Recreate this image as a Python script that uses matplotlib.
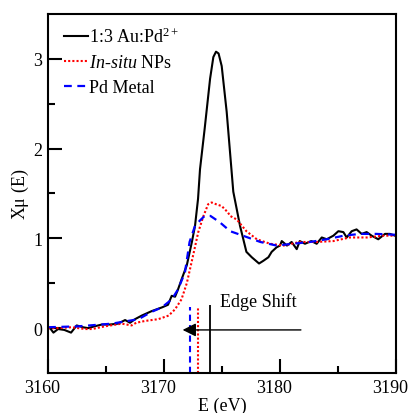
import numpy as np
import matplotlib
matplotlib.use("Agg")
import matplotlib.pyplot as plt
from matplotlib.transforms import ScaledTranslation

plt.rcParams['font.family'] = ['Liberation Serif', 'DejaVu Serif']
plt.rcParams['mathtext.fontset'] = 'custom'
plt.rcParams['mathtext.rm'] = 'Liberation Serif'
plt.rcParams['mathtext.it'] = 'Liberation Serif:italic'

# 1:3 Au:Pd2+ precursor
E_aupd = [3160.0, 3160.17, 3160.46, 3160.86, 3161.4, 3161.98, 3162.47, 3163.0, 3163.45, 3164.0, 3164.63,
          3165.3, 3166.03, 3166.64, 3167.07, 3167.5, 3168.08, 3168.94, 3169.8, 3170.34, 3170.66, 3170.95,
          3171.2, 3171.53, 3171.96, 3172.4, 3172.67, 3172.93, 3173.1, 3173.5, 3173.97, 3174.25, 3174.48,
          3174.7, 3174.97, 3175.4, 3175.97, 3176.55, 3177.1, 3177.56, 3178.19, 3178.56, 3179.0, 3179.28,
          3179.7, 3180.0, 3180.15, 3180.6, 3181.0, 3181.44, 3181.7, 3182.15, 3182.7, 3183.16, 3183.6,
          3184.03, 3184.6, 3185.03, 3185.46, 3185.75, 3186.18, 3186.6, 3187.04, 3187.47, 3187.9, 3188.47,
          3189.05, 3189.48, 3189.91, 3190.0]
mu_aupd = [0.0, 0.0, -0.05, -0.01, -0.02, -0.05, 0.03, 0.01, 0.0, 0.02, 0.04,
           0.04, 0.05, 0.09, 0.06, 0.1, 0.14, 0.19, 0.23, 0.26, 0.36, 0.35,
           0.43, 0.55, 0.7, 0.96, 1.14, 1.44, 1.77, 2.22, 2.78, 3.02, 3.08,
           3.06, 2.92, 2.41, 1.52, 1.14, 0.85, 0.79, 0.72, 0.75, 0.79, 0.85,
           0.9, 0.92, 0.97, 0.92, 0.96, 0.88, 0.97, 0.94, 0.97, 0.94, 1.01,
           0.99, 1.03, 1.08, 1.07, 1.01, 1.08, 1.1, 1.05, 1.07, 1.03, 0.99,
           1.05, 1.05, 1.03, 1.03]

# in-situ nanoparticles
E_nps = [3160.0, 3161.0, 3162.0, 3163.2, 3163.8, 3164.9, 3166.35, 3167.2, 3167.6, 3168.36, 3169.5,
         3170.4, 3170.95, 3171.5, 3171.96, 3172.4, 3172.95, 3173.4, 3173.8, 3174.1, 3174.5, 3174.97,
         3175.5, 3175.7, 3176.27, 3177.1, 3178.0, 3179.14, 3180.3, 3181.7, 3183.16, 3184.6, 3186.0,
         3187.5, 3188.9, 3190.0]
mu_nps = [0.0, 0.0, 0.01, -0.01, -0.01, 0.02, 0.05, 0.03, 0.06, 0.08, 0.1,
          0.14, 0.21, 0.32, 0.5, 0.75, 1.07, 1.25, 1.38, 1.40, 1.38, 1.36,
          1.29, 1.25, 1.21, 1.08, 0.99, 0.94, 0.92, 0.96, 0.96, 0.97, 1.01,
          1.01, 1.03, 1.03]

# Pd metal reference foil
E_pd = [3160.0, 3162.6, 3165.5, 3167.8, 3168.9, 3169.8, 3170.66, 3171.2, 3171.8, 3172.2, 3172.67,
        3173.1, 3173.5, 3174.0, 3174.8, 3175.7, 3176.8, 3178.3, 3179.7, 3181.1, 3182.6, 3184.0,
        3185.5, 3186.9, 3188.3, 3190.0]
mu_pd = [0.01, 0.02, 0.05, 0.1, 0.18, 0.23, 0.32, 0.43, 0.62, 0.96, 1.14,
         1.2, 1.25, 1.25, 1.18, 1.08, 1.03, 0.96, 0.92, 0.94, 0.96, 0.99,
         1.03, 1.05, 1.05, 1.04]

# edge positions marked at the bottom
edge_pd = 3172.2
edge_nps = 3172.9
edge_aupd = 3173.95

fig = plt.figure(figsize=(4.11, 4.14), dpi=100)
ax = fig.add_axes([0.117, 0.0966, 0.8465, 0.8672])

ax.plot(E_aupd, mu_aupd, color='k', lw=1.5, label=r'1:3 Au:Pd$^{2+}$')
ax.plot(E_nps, mu_nps, color='red', lw=1.5, ls=(0, (1, 1)), label=r'$\it{In}$-$\it{situ}$ NPs')
ax.plot(E_pd, mu_pd, color='blue', lw=1.6, ls=(0, (3.5, 2.5)), label='Pd Metal')

ax.vlines(edge_pd, -0.5, 0.24, color='blue', lw=1.5, ls=(0, (3, 2)))
ax.vlines(edge_nps, -0.5, 0.24, color='red', lw=1.5, ls=(0, (1, 1)))
ax.vlines(edge_aupd, -0.5, 0.26, color='k', lw=1.3)

ax.annotate('', xy=(3171.6, -0.02), xytext=(3181.8, -0.02),
            arrowprops=dict(arrowstyle='-|>', mutation_scale=20, lw=1, color='k', shrinkA=0, shrinkB=0))
ax.text(3174.8, 0.3, 'Edge Shift', fontsize=13, va='center', ha='left')

ax.set_xlim(3160, 3190)
ax.set_ylim(-0.5, 3.5)
ax.set_xticks([3160, 3170, 3180, 3190])
ax.set_xticks([3165, 3175, 3185], minor=True)
ax.set_yticks([0, 1, 2, 3])
ax.set_yticks([0.5, 1.5, 2.5], minor=True)
ax.tick_params(which='major', direction='in', length=10, width=1.5, labelsize=13, pad=4)
ax.tick_params(which='minor', direction='in', length=5, width=1.5)
for s in ax.spines.values():
    s.set_linewidth(1.5)

# x tick labels sit a little left of their ticks
shift = ScaledTranslation(-4 / 72, 0, fig.dpi_scale_trans)
for lbl in ax.get_xticklabels():
    lbl.set_transform(lbl.get_transform() + shift)

ax.set_xlabel('E (eV)', fontsize=13, labelpad=1)
ax.set_ylabel(r'X$\mathregular{\mu}$ (E)', fontsize=13, labelpad=2)

ax.legend(loc='upper left', frameon=False, fontsize=13, handlelength=1.3, handletextpad=0.1,
          labelspacing=0.45, borderaxespad=0.3, bbox_to_anchor=(0.01, 1.0))

fig.savefig('out.png', dpi=100)
